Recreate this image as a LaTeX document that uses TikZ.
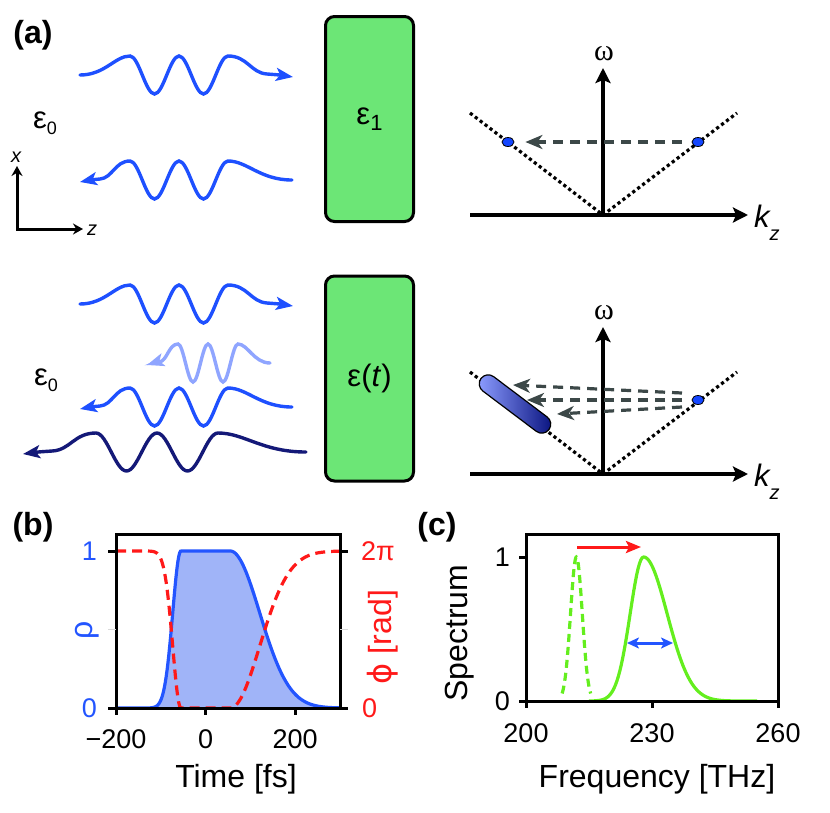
\documentclass[tikz,border=0pt]{standalone}
\usepackage{fontspec}
\setmainfont{Liberation Sans}
\newfontfamily\serifgr{Liberation Serif}
\newfontfamily\phifont{DejaVu Sans}
\usetikzlibrary{arrows.meta,shapes.geometric,shapes.misc}

\definecolor{wblue}{RGB}{30,80,255}
\definecolor{wlight}{RGB}{143,165,255}
\definecolor{wdark}{RGB}{20,25,120}
\definecolor{boxgreen}{RGB}{108,230,118}
\definecolor{dotblue}{RGB}{20,70,255}
\definecolor{jumpgray}{RGB}{60,72,72}
\definecolor{bandlight}{RGB}{140,156,255}
\definecolor{banddark}{RGB}{10,20,128}
\definecolor{rhoblue}{RGB}{35,85,255}
\definecolor{rhofill}{RGB}{160,180,248}
\definecolor{phired}{RGB}{255,25,25}
\definecolor{specgreen}{RGB}{100,238,30}

% a wave packet: #1 half period, #2 tail before, #3 tail to the arrow
\tikzset{pics/pulse/.style n args={3}{code={
  \draw ({-2*#1-#2},0) .. controls ({-2*#1-0.5*#2},0) and ({-2*#1-0.3*#2},-19) .. ({-2*#1},-19)
    .. controls ({-1.64*#1},-19) and ({-1.36*#1},19) .. ({-#1},19)
    .. controls ({-0.64*#1},19) and ({-0.36*#1},-19) .. (0,-19)
    .. controls ({0.36*#1},-19) and ({0.64*#1},19) .. ({#1},19)
    .. controls ({1.36*#1},19) and ({1.64*#1},-19) .. ({2*#1},-19)
    .. controls ({2*#1+0.3*#3},-19) and ({2*#1+0.35*#3},-2) .. ({2*#1+0.6*#3},-1)
    .. controls ({2*#1+0.8*#3},0) .. ({2*#1+#3},2);
}}}

\begin{document}
\begin{tikzpicture}[x=1pt, y=-1pt,
    declare function={
      rho(\x)=exp(-1*((max(-55-(\x),0)/26)^2)-((max((\x)-55,0)/93)^2));
      spec(\x)=exp(-0.5*((max(228-(\x),0)/3.2)^2)-0.5*((max((\x)-228,0)/5.6)^2));
      nar(\x)=exp(-0.5*(((\x)-212)/1.4)^2);
    },
    wave/.style={line width=3.4pt, line cap=round, -{Stealth[length=17pt,width=13pt,inset=4pt]}},
    medium/.style={draw, line width=3pt, rounded corners=9pt, fill=boxgreen, minimum width=88pt,
      minimum height=205pt, inner sep=0pt, font=\fontsize{31}{32}\selectfont},
    eps/.style={inner sep=0pt, font=\fontsize{31}{32}\selectfont},
    triad/.style={line width=3pt, {Stealth[length=10pt,width=11pt]}-{Stealth[length=10pt,width=11pt]}},
    small/.style={inner sep=0pt, font=\itshape\fontsize{20}{21}\selectfont},
    axis/.style={line width=3.4pt, -{Stealth[length=15pt,width=15pt,inset=3pt]}},
    cone/.style={line width=3.2pt, dash pattern=on 3.2pt off 3pt},
    dot/.style={ellipse, draw, line width=0.8pt, fill=dotblue, minimum width=12pt, minimum height=9pt, inner sep=0pt},
    jump/.style={jumpgray, line width=3.2pt, dash pattern=on 10pt off 7pt, -{Stealth[length=17pt,width=14pt,inset=5pt]}},
    capsule/.style={rounded rectangle, draw, line width=1.2pt, minimum width=85pt, minimum height=18pt,
      inner sep=0pt, rotate=-37, left color=bandlight, right color=banddark},
    kay/.style={inner sep=0pt, anchor=base west, font=\itshape\fontsize{31}{32}\selectfont},
    omega/.style={inner sep=0pt, anchor=base, font=\serifgr\fontsize{30}{31}\selectfont},
    panel/.style={inner sep=0pt, font=\bfseries\fontsize{32}{34}\selectfont},
    num/.style={inner sep=0pt, font=\fontsize{27}{28}\selectfont},
    axlbl/.style={inner sep=0pt, font=\fontsize{32}{34}\selectfont},
    frame/.style={line width=3pt},
    ]
    \useasboundingbox (0,0) rectangle (830,812);

    % (a) waves in front of the slab
    \node[panel] (pa) at (33,35) {(a)};
    \pic[wave, wblue] (p1) at (179,75) {pulse={24.5}{50}{65}};
    \pic[wave, wblue, xscale=-1] (p2) at (179,180) {pulse={24.5}{64}{50}};
    \pic[wave, wblue] (p3) at (179,304) {pulse={24.5}{50}{65}};
    \pic[wave, wlight, xscale=-1] (p4) at (208,363) {pulse={15}{32}{31}};
    \pic[wave, wblue, xscale=-1] (p5) at (179,407) {pulse={24.5}{64}{50}};
    \pic[wave, wdark, xscale=-1] (p6) at (157,452) {pulse={30.5}{88}{73}};

    \node[medium] (slab1) at (369.5,119) {ε\raisebox{-6pt}{\fontsize{22}{22}\selectfont 1}};
    \node[medium] (slab2) at (369.5,378.5) {ε(\textit{t})};
    \node[eps] (e0a) at (45,123) {ε\raisebox{-6pt}{\fontsize{18}{18}\selectfont 0}};
    \node[eps] (e0b) at (46,380) {ε\raisebox{-6pt}{\fontsize{18}{18}\selectfont 0}};

    % x-z frame
    \coordinate (ax0) at (17,229);
    \coordinate (axx) at (17,166);
    \coordinate (axz) at (83,229);
    \draw[triad] (axx) -- (ax0) -- (axz);
    \node[small] (xl) at (16,157) {x};
    \node[small] (zl) at (92,230) {z};

    % light cones
    \foreach \oy [count=\n] in {215,474} {
      \coordinate (o\n) at (603,\oy);
      \coordinate (ka\n) at (470,\oy);
      \coordinate (kb\n) at (748,\oy);
      \coordinate (wa\n) at (603,\oy-147);
      \coordinate (la\n) at (470,\oy-102);
      \coordinate (lb\n) at (737,\oy-102);
      \draw[cone] (la\n) -- (o\n) -- (lb\n);
      \draw[axis] (ka\n) -- (kb\n);
      \draw[axis] (o\n) -- (wa\n);
      \node[omega] (om\n) at (604,\oy-155) {ω};
      \node[kay] (kz\n) at (754,\oy+12) {k\raisebox{-13pt}{\fontsize{20}{20}\selectfont z}};
    }

    \node[dot] (d1l) at (508,142) {};
    \node[dot] (d1r) at (698,142) {};
    \draw[jump, shorten <=10pt, shorten >=11pt] (d1r) -- (d1l);

    \node[capsule] (band) at (515,404) {};
    \node[dot] (d2r) at (698,400) {};
    \foreach \ys/\xe/\ye [count=\n] in {393/513/385, 400/527/400, 407/557/414} {
      \coordinate (js\n) at (682,\ys);
      \coordinate (je\n) at (\xe,\ye);
      \draw[jump] (js\n) -- (je\n);
    }

    % (b) modulation
    \node[panel] (pb) at (33,527) {(b)};
    \fill[rhofill] (116,708) -- plot[domain=-200:300, samples=251] ({205.6+0.448*\x},{708-157*rho(\x)}) -- (340,708) -- cycle;
    \draw[rhoblue, line width=3.2pt] plot[domain=-200:300, samples=251] ({205.6+0.448*\x},{708-157*rho(\x)});
    \draw[phired, line width=3.2pt, dash pattern=on 10pt off 6pt] plot[domain=-200:300, samples=251] ({205.6+0.448*\x},{551+157*rho(\x)});
    \draw[frame] (116,534) rectangle (340,708);
    \foreach \y in {551,708} {
      \draw[frame] (108,\y) -- (116,\y);
      \draw[frame] (340,\y) -- (348,\y);
    }
    \draw[gray!30, line width=1pt] (108,629) -- (116,629) (340,629) -- (348,629);
    \foreach \t/\lab [count=\n] in {-200/−200, 0/0, 200/200} {
      \draw[frame] ({205.6+0.448*\t},708) -- ({205.6+0.448*\t},715);
      \node[num, anchor=base] (tb\n) at ({205.6+0.448*\t},748) {\lab};
    }
    \node[num, text=rhoblue, anchor=east] (r1) at (97,551) {1};
    \node[num, text=rhoblue, anchor=east] (r0) at (97,708) {0};
    \node[axlbl, text=rhoblue, rotate=90] (rl) at (87,630) {ρ};
    \node[num, text=phired, anchor=west] (f1) at (361,551) {2π};
    \node[num, text=phired, anchor=west] (f0) at (362,708) {0};
    \node[axlbl, text=phired, rotate=90] (fl) at (383,637) {{\phifont ϕ} [rad]};
    \node[axlbl, anchor=base] (tlab) at (236,787) {Time [fs]};

    % (c) spectra
    \node[panel] (pc) at (437,527) {(c)};
    \draw[specgreen, line width=3.2pt] plot[domain=215:255, samples=121] ({526+4.2*(\x-200)},{701-144*spec(\x)});
    \draw[specgreen, line width=3.2pt, dash pattern=on 8pt off 5pt] plot[domain=208.6:215.4, samples=61] ({526+4.2*(\x-200)},{701-144*nar(\x)});
    \draw[frame] (526,534) rectangle (778,701);
    \foreach \y in {557,701} \draw[frame] (519,\y) -- (526,\y);
    \foreach \f [count=\n] in {200,230,260} {
      \draw[frame] ({526+4.2*(\f-200)},701) -- ({526+4.2*(\f-200)},708);
      \node[num, anchor=base] (tc\n) at ({526+4.2*(\f-200)},742) {\f};
    }
    \node[num, anchor=east] (s1) at (510,557) {1};
    \node[num, anchor=east] (s0) at (510,701) {0};
    \node[axlbl, rotate=90] (slab) at (460,633) {Spectrum};
    \node[axlbl, anchor=base] (flab) at (657,787) {Frequency [THz]};

    \coordinate (sa) at (577,547);
    \coordinate (sb) at (641,547);
    \draw[phired, line width=3pt, -{Stealth[length=15pt,width=12pt,inset=3pt]}] (sa) -- (sb);
    \coordinate (bw1) at (627,643);
    \coordinate (bw2) at (673,643);
    \draw[rhoblue, line width=3pt, {Stealth[length=12pt,width=11pt,inset=3pt]}-{Stealth[length=12pt,width=11pt,inset=3pt]}] (bw1) -- (bw2);
\end{tikzpicture}
\end{document}
